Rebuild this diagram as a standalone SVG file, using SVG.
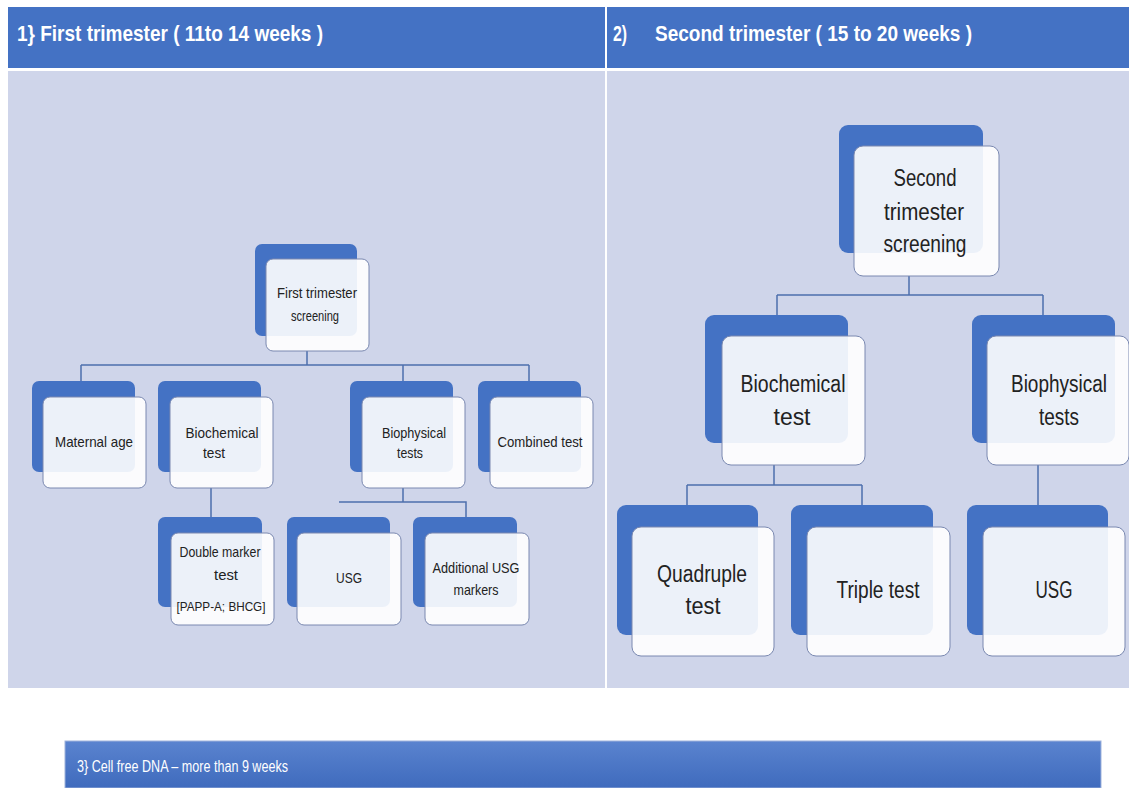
<svg xmlns="http://www.w3.org/2000/svg" width="1129" height="788" viewBox="0 0 1129 788">
<defs>
<linearGradient id="barGrad" x1="0" y1="0" x2="0" y2="1">
<stop offset="0" stop-color="#5a83cf"/>
<stop offset="1" stop-color="#3f6bbd"/>
</linearGradient>
<style>
.hdr{fill:#4472c4}
.panel{fill:#cfd5ea}
.back{fill:#4472c4}
.front{fill:#ffffff;fill-opacity:0.9;stroke:#7a88b0;stroke-width:1}
.conn{stroke:#4e6fad;stroke-width:1.5;fill:none}
text{font-family:"Liberation Sans",Arial,sans-serif}
.ht{font-weight:bold;font-size:22px;fill:#ffffff}
.bt{font-size:16px;fill:#ffffff}
.s{font-size:15px;fill:#222222;text-anchor:middle}
.xs{font-size:13px;fill:#222222;text-anchor:middle}
.l{font-size:23px;fill:#222222;text-anchor:middle}
</style>
</defs>
<rect width="1129" height="788" fill="#ffffff"/>
<g id="headers">
<rect class="hdr" x="8" y="7" width="597" height="61"/>
<rect class="hdr" x="607" y="7" width="522" height="61"/>
<text class="ht" x="17" y="41" textLength="306" lengthAdjust="spacingAndGlyphs">1} First trimester  ( 11to 14 weeks )</text>
<text class="ht" x="613" y="41" textLength="14" lengthAdjust="spacingAndGlyphs">2)</text>
<text class="ht" x="655" y="41" textLength="317" lengthAdjust="spacingAndGlyphs">Second trimester  ( 15 to 20 weeks )</text>
</g>
<g id="panels">
<rect class="panel" x="8" y="71" width="597" height="617"/>
<rect class="panel" x="607" y="71" width="522" height="617"/>
</g>
<g id="connectors">
<path class="conn" d="M307 351V365M81 365H529M81 365V381M403 365V381M529 365V381M211 488V517M403 488V502M339 502H466V517"/>
<path class="conn" d="M909 276V295M777 295H1043M777 295V315M1043 295V315M774 465V485M687 485H862M687 485V505M862 485V505M1038 465V505"/>
</g>
<g id="n-first">
<rect class="back" x="255" y="244" width="102" height="92" rx="7"/>
<rect class="front" x="266" y="259" width="103" height="92" rx="7"/>
<text class="s" x="317" y="298" textLength="80" lengthAdjust="spacingAndGlyphs">First trimester</text>
<text class="s" x="315" y="321" textLength="48" lengthAdjust="spacingAndGlyphs">screening</text>
</g>
<g id="n-maternal">
<rect class="back" x="32" y="381" width="103" height="91" rx="7"/>
<rect class="front" x="43" y="397" width="103" height="91" rx="7"/>
<text class="s" x="94" y="447" textLength="78" lengthAdjust="spacingAndGlyphs">Maternal age</text>
</g>
<g id="n-biochem1">
<rect class="back" x="158" y="381" width="103" height="91" rx="7"/>
<rect class="front" x="170" y="397" width="103" height="91" rx="7"/>
<text class="s" x="222" y="438" textLength="73" lengthAdjust="spacingAndGlyphs">Biochemical</text>
<text class="s" x="214" y="458" textLength="22" lengthAdjust="spacingAndGlyphs">test</text>
</g>
<g id="n-biophys1">
<rect class="back" x="350" y="381" width="103" height="91" rx="7"/>
<rect class="front" x="362" y="397" width="103" height="91" rx="7"/>
<text class="s" x="414" y="438" textLength="64" lengthAdjust="spacingAndGlyphs">Biophysical</text>
<text class="s" x="410" y="458" textLength="26" lengthAdjust="spacingAndGlyphs">tests</text>
</g>
<g id="n-combined">
<rect class="back" x="478" y="381" width="103" height="91" rx="7"/>
<rect class="front" x="490" y="397" width="103" height="91" rx="7"/>
<text class="s" x="540" y="447" textLength="85" lengthAdjust="spacingAndGlyphs">Combined test</text>
</g>
<g id="n-double">
<rect class="back" x="158" y="517" width="104" height="90" rx="7"/>
<rect class="front" x="171" y="533" width="103" height="92" rx="7"/>
<text class="s" x="220" y="557" textLength="81" lengthAdjust="spacingAndGlyphs">Double marker</text>
<text class="s" x="226" y="580" textLength="24" lengthAdjust="spacingAndGlyphs">test</text>
<text class="xs" x="221" y="611" textLength="89" lengthAdjust="spacingAndGlyphs">[PAPP-A; BHCG]</text>
</g>
<g id="n-usg1">
<rect class="back" x="287" y="517" width="103" height="90" rx="7"/>
<rect class="front" x="297" y="533" width="104" height="92" rx="7"/>
<text class="s" x="349" y="583" textLength="26" lengthAdjust="spacingAndGlyphs">USG</text>
</g>
<g id="n-addusg">
<rect class="back" x="413" y="517" width="104" height="90" rx="7"/>
<rect class="front" x="425" y="533" width="104" height="92" rx="7"/>
<text class="s" x="476" y="573" textLength="87" lengthAdjust="spacingAndGlyphs">Additional USG</text>
<text class="s" x="476" y="595" textLength="45" lengthAdjust="spacingAndGlyphs">markers</text>
</g>
<g id="n-second">
<rect class="back" x="839" y="125" width="144" height="128" rx="9"/>
<rect class="front" x="854" y="146" width="145" height="130" rx="9"/>
<text class="l" x="925" y="186" textLength="63" lengthAdjust="spacingAndGlyphs">Second</text>
<text class="l" x="924" y="220" textLength="80" lengthAdjust="spacingAndGlyphs">trimester</text>
<text class="l" x="925" y="252" textLength="83" lengthAdjust="spacingAndGlyphs">screening</text>
</g>
<g id="n-biochem2">
<rect class="back" x="705" y="315" width="143" height="128" rx="9"/>
<rect class="front" x="722" y="336" width="143" height="129" rx="9"/>
<text class="l" x="793" y="392" textLength="105" lengthAdjust="spacingAndGlyphs">Biochemical</text>
<text class="l" x="792" y="425" textLength="37" lengthAdjust="spacingAndGlyphs">test</text>
</g>
<g id="n-biophys2">
<rect class="back" x="972" y="315" width="143" height="128" rx="9"/>
<rect class="front" x="987" y="336" width="142" height="129" rx="9"/>
<text class="l" x="1059" y="392" textLength="96" lengthAdjust="spacingAndGlyphs">Biophysical</text>
<text class="l" x="1059" y="425" textLength="40" lengthAdjust="spacingAndGlyphs">tests</text>
</g>
<g id="n-quad">
<rect class="back" x="617" y="505" width="141" height="130" rx="9"/>
<rect class="front" x="632" y="527" width="142" height="129" rx="9"/>
<text class="l" x="702" y="582" textLength="90" lengthAdjust="spacingAndGlyphs">Quadruple</text>
<text class="l" x="703" y="614" textLength="35" lengthAdjust="spacingAndGlyphs">test</text>
</g>
<g id="n-triple">
<rect class="back" x="791" y="505" width="142" height="130" rx="9"/>
<rect class="front" x="807" y="527" width="143" height="129" rx="9"/>
<text class="l" x="878" y="598" textLength="83" lengthAdjust="spacingAndGlyphs">Triple test</text>
</g>
<g id="n-usg2">
<rect class="back" x="967" y="505" width="141" height="130" rx="9"/>
<rect class="front" x="983" y="527" width="142" height="129" rx="9"/>
<text class="l" x="1054" y="598" textLength="37" lengthAdjust="spacingAndGlyphs">USG</text>
</g>
<g id="cfdna">
<rect x="65" y="741" width="1036" height="47" fill="url(#barGrad)" stroke="#9fb3dc" stroke-width="1"/>
<text class="bt" x="77" y="772" textLength="211" lengthAdjust="spacingAndGlyphs">3} Cell free DNA – more than 9 weeks</text>
</g>
</svg>
